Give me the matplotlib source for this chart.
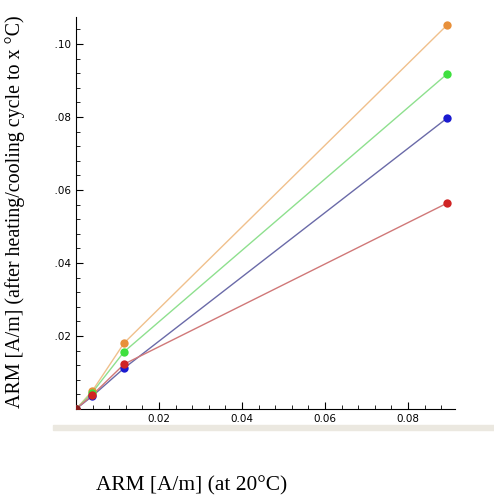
import matplotlib.pyplot as plt
from matplotlib.patches import Rectangle
from matplotlib.transforms import Bbox
from matplotlib.ticker import MultipleLocator

# data
x_vals = [0.0, 0.0039, 0.0116, 0.0894]
orange = [0.0, 0.0049, 0.0181, 0.1052]
green = [0.0, 0.0045, 0.0157, 0.0918]
blue = [0.0, 0.0035, 0.0112, 0.0797]
red = [0.0, 0.0038, 0.0123, 0.0564]

series = [
    (orange, '#f0c08c', '#e8903a'),
    (green, '#8ee08e', '#3ee03e'),
    (blue, '#6a6aa8', '#1a1ad0'),
    (red, '#d07878', '#d02424'),
]

W, H = 494, 503
fig = plt.figure(figsize=(W / 100, H / 100), dpi=100)
ax = fig.add_axes([76 / W, 1 - 409 / H, (455 - 76) / W, (409 - 17) / H])

for ys, lc, mc in series:
    ax.plot(x_vals, ys, color=lc, lw=1.0, zorder=2)
    ax.plot(x_vals, ys, 'o', color=mc, ms=6, mec='none', zorder=3)
ax.plot([0], [0], 'o', color='#8a1c1c', ms=6, mec='none', zorder=4)

ax.set_xlim(0, 0.0913)
ax.set_ylim(0, 0.1074)
ax.spines['top'].set_visible(False)
ax.spines['right'].set_visible(False)
ax.xaxis.set_minor_locator(MultipleLocator(0.004))
ax.yaxis.set_minor_locator(MultipleLocator(0.004))
ax.set_xticks([0.02, 0.04, 0.06, 0.08])
ax.set_yticks([0.02, 0.04, 0.06, 0.08, 0.10])
ax.set_xticklabels(['0.02', '0.04', '0.06', '0.08'])
ax.set_yticklabels(['0.02', '0.04', '0.06', '0.08', '0.10'])
ax.tick_params(which='major', direction='in', length=5, width=0.8, labelsize=7.5, pad=3.5)
ax.tick_params(which='minor', direction='in', length=3, width=0.6)

# the source picture is cropped at the left, cutting the y tick labels
clip = Bbox.from_extents(55, 0, W, H)
for lab in ax.get_yticklabels():
    lab.set_clip_on(True)
    lab.set_clip_box(clip)

# grey band under the original screenshot
fig.patches.append(Rectangle((53 / W, 1 - 430 / H), (W - 53) / W, 5 / H,
                             transform=fig.transFigure, color='#ebe8e0', zorder=0))

fig.text(15 / W, 1 - 212 / H, 'ARM [A/m] (after heating/cooling cycle to x °C)',
         rotation=90, ha='center', va='center', family='Liberation Serif', fontsize=14.4)
fig.text(192 / W, 1 - 486 / H, 'ARM [A/m] (at 20°C)',
         ha='center', va='center', family='Liberation Serif', fontsize=15.4)

fig.savefig('out.png', dpi=100)
